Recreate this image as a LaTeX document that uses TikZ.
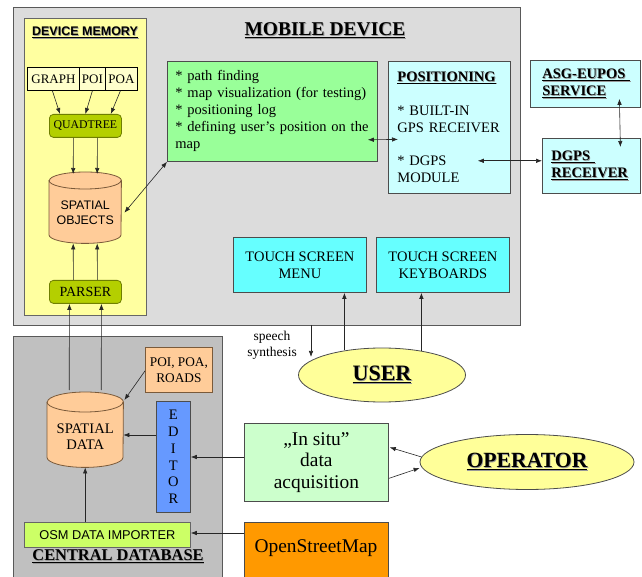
\documentclass[tikz,border=0pt]{standalone}
\usepackage{fontspec}
\setmainfont{Liberation Serif}
\setsansfont{Liberation Sans}
\usetikzlibrary{arrows.meta,calc,shapes.geometric}

\definecolor{devgray}{HTML}{DCDCDC}
\definecolor{dbgray}{HTML}{C0C0C0}
\definecolor{memyellow}{HTML}{FFFFA0}
\definecolor{paleyellow}{HTML}{FFFFCC}
\definecolor{olive}{HTML}{B4CF00}
\definecolor{oliveedge}{HTML}{6F7F00}
\definecolor{peach}{HTML}{FFCC99}
\definecolor{peachedge}{HTML}{7A5A3A}
\definecolor{taskgreen}{HTML}{99FF99}
\definecolor{palecyan}{HTML}{CCFFFF}
\definecolor{touchcyan}{HTML}{66FFFF}
\definecolor{useryellow}{HTML}{FFFF99}
\definecolor{editorblue}{HTML}{6699FF}
\definecolor{importgreen}{HTML}{CCFF66}
\definecolor{insitugreen}{HTML}{CCFFCC}
\definecolor{osmorange}{HTML}{FF9900}

\newcommand\fsz[2]{\fontsize{#1}{#2}\selectfont}
% underlined title with a soft grey drop shadow
\newcommand\shd[1]{\rlap{\kern0.8pt\raisebox{-0.8pt}{\textcolor{black!40}{\underline{#1}}}}\underline{#1}}

\tikzset{
  box/.style={draw=black!70, line width=0.8pt, inner sep=0pt, align=center,
              font=\fsz{14.5}{17}},
  region/.style={draw=black!65, line width=1pt, inner sep=0pt},
  cylbox/.style={draw=none, inner sep=0pt},
  cylpath/.style={draw=peachedge, line width=0.8pt, fill=peach},
  oval/.style={draw=black!70, line width=0.8pt, fill=useryellow, ellipse, inner sep=0pt},
  arr/.style={-{Latex[length=6pt,width=4.5pt]}, line width=0.6pt, black!85},
  darr/.style={{Latex[length=6pt,width=4.5pt]}-{Latex[length=6pt,width=4.5pt]}, line width=0.6pt, black!85},
}

% cylinder drawn over a named rectangle node: #1 node, #2 half width, #3 cap radius
\newcommand\drawcyl[3]{%
  \draw[cylpath] ($(#1.north west)+(0,-#3)$) -- ($(#1.south west)+(0,#3)$)
     arc[start angle=180, end angle=360, x radius=#2, y radius=#3]
     -- ($(#1.north east)+(0,-#3)$)
     arc[start angle=0, end angle=180, x radius=#2, y radius=#3] -- cycle;
  \draw[draw=peachedge, line width=0.8pt] ($(#1.north west)+(0,-#3)$)
     arc[start angle=180, end angle=360, x radius=#2, y radius=#3];
}

\begin{document}
\begin{tikzpicture}[x=1pt,y=1pt]
\useasboundingbox (0,0) rectangle (642,576);
\fill[white] (0,0) rectangle (642,576);

% ---------------- mobile device ----------------
\node[region, fill=devgray, minimum width=507, minimum height=318, anchor=north west] (mobile) at (13,569) {};
\node[font=\fsz{19.5}{22}\bfseries] (mobiletitle) at (325,545) {\shd{MOBILE DEVICE}};

\node[region, draw=black!60, line width=0.8pt, fill=memyellow, minimum width=122, minimum height=297, anchor=north west] (mem) at (24,558) {};
\node[font=\sffamily\bfseries\fsz{12.5}{14}] (memtitle) at (85,543) {\shd{DEVICE MEMORY}};

\node[box, draw=black, fill=paleyellow, font=\fsz{13}{15}, minimum width=52, minimum height=23, anchor=north west] (graph) at (27,509) {GRAPH};
\node[box, draw=black, fill=paleyellow, font=\fsz{13}{15}, minimum width=26, minimum height=23, anchor=north west] (poi) at (79,509) {POI};
\node[box, draw=black, fill=paleyellow, font=\fsz{13}{15}, minimum width=32, minimum height=23, anchor=north west] (poa) at (105,509) {POA};

\node[box, draw=oliveedge, fill=olive, rounded corners=4pt, font=\fsz{11.8}{14}, minimum width=72, minimum height=23, anchor=north west] (quad) at (49,462) {QUADTREE};

\node[cylbox, minimum width=72, minimum height=71, anchor=north west] (sobj) at (49,404) {};
\drawcyl{sobj}{36}{8.5}
\node[font=\sffamily\fsz{12.4}{15.5}, align=center] (sobjtext) at ($(sobj.center)+(0,-5)$) {SPATIAL\\OBJECTS};

\node[box, draw=oliveedge, fill=olive, rounded corners=4pt, font=\fsz{14}{16}, minimum width=72, minimum height=23, anchor=north west] (parser) at (49,296) {PARSER};

\node[box, fill=taskgreen, minimum width=210, minimum height=100, anchor=north west, text width=194, align=left] (tasks) at (167,515)
  {* path finding\\{}* map visualization (for testing)\\{}* positioning log\\{}* defining user’s position on the\\map};

\node[box, fill=palecyan, minimum width=122, minimum height=132, anchor=north west, text width=104, align=left] (pos) at (388,515)
  {\textbf{\shd{POSITIONING}}\\[16.8pt]* BUILT-IN\\GPS RECEIVER\\[16.8pt]* DGPS\\MODULE};

\node[box, fill=touchcyan, minimum width=133, minimum height=55, anchor=north west] (menu) at (233,339) {TOUCH SCREEN\\MENU};
\node[box, fill=touchcyan, minimum width=133, minimum height=55, anchor=north west] (keyb) at (376,339) {TOUCH SCREEN\\KEYBOARDS};

% ---------------- external positioning ----------------
\node[box, fill=palecyan, minimum width=110, minimum height=47, anchor=north west, text width=86, align=left] (asg) at (530,516)
  {\textbf{\shd{ASG-EUPOS\ }}\\\textbf{\shd{SERVICE}}};
\node[box, fill=palecyan, minimum width=98, minimum height=55, anchor=north west, text width=80, align=left] (dgps) at (542,438)
  {\textbf{\shd{DGPS\ }}\\\textbf{\shd{RECEIVER}}};

% ---------------- user ----------------
\node[oval, minimum width=167, minimum height=54, font=\fsz{22}{24}\bfseries] (user) at (382,201) {\shd{USER}};
\node[font=\fsz{13.5}{16}, align=center] (speech) at (272,231) {speech\\synthesis};

% ---------------- central database ----------------
\node[region, fill=dbgray, minimum width=209, minimum height=250, anchor=north west] (cdb) at (13,240) {};
\node[box, fill=peach, draw=peachedge, font=\fsz{13.3}{16}, minimum width=67, minimum height=45, anchor=north west] (poiroads) at (145,229) {POI, POA,\\ROADS};

\node[cylbox, minimum width=76, minimum height=75, anchor=north west] (sdata) at (47,184) {};
\drawcyl{sdata}{38}{10}
\node[font=\fsz{14.6}{16.5}, align=center] (sdatatext) at ($(sdata.center)+(0,-7)$) {SPATIAL\\DATA};

\node[box, draw=black!70, fill=editorblue, minimum width=34, minimum height=111, anchor=north west, font=\fsz{14.5}{16.7}] (editor) at (156,175) {E\\D\\I\\T\\O\\R};

\node[box, draw=black!60, fill=importgreen, minimum width=166, minimum height=25, anchor=north west, font=\sffamily\fsz{12.8}{15}] (importer) at (24,54) {OSM DATA IMPORTER};
\node[font=\fsz{16.4}{18}\bfseries] (cdbtitle) at (118,19) {\shd{CENTRAL DATABASE}};

% ---------------- operator side ----------------
\node[box, fill=insitugreen, minimum width=144, minimum height=78, anchor=north west, font=\fsz{19.4}{21.5}] (insitu) at (244,153) {„In situ”\\data\\acquisition};
\node[oval, minimum width=214, minimum height=55, font=\fsz{21.7}{24}\bfseries] (operator) at (527,114) {\shd{OPERATOR}};
\node[box, fill=osmorange, minimum width=144, minimum height=62, anchor=north west] (osm) at (244,54) {};
\node[font=\fsz{19.4}{22}] (osmtext) at (316,28) {OpenStreetMap};

% ---------------- connectors ----------------
\draw[arr] ($(graph.south)+(-1,0)$) -- ($(quad.north west)+(11,0)$);
\draw[arr] (poi.south) -- (quad.north);
\draw[arr] ($(poa.south)+(-1,0)$) -- ($(quad.north east)+(-11,0)$);

\draw[arr] ($(quad.south)+(-12,0)$) -- ($(sobj.north)+(-12,-2)$);
\draw[arr] ($(quad.south)+(12,0)$) -- ($(sobj.north)+(12,-2)$);

\draw[arr] ($(parser.north)+(-12,0)$) -- ($(sobj.south)+(-12,0)$);
\draw[arr] ($(parser.north)+(12,0)$) -- ($(sobj.south)+(12,0)$);

\draw[arr] ($(sdata.north)+(-16,2)$) -- ($(parser.south)+(-16,0)$);
\draw[arr] ($(sdata.north)+(16,2)$) -- ($(parser.south)+(16,0)$);

\draw[darr] (tasks.south west) -- ($(sobj.east)+(3,-5)$);
\draw[darr] ($(tasks.south east)+(-10,22)$) -- ($(pos.west)+(10,-12)$);
\coordinate (dgpsmod) at ($(pos.south east)+(-33,33)$);
\draw[darr] (dgpsmod) -- (dgps.west |- dgpsmod);
\draw[darr] ($(asg.south)+(34,9)$) -- ($(dgps.north)+(29,-9)$);

\coordinate (menuin) at ($(menu.south)+(44.5,0)$);
\coordinate (keybin) at ($(keyb.south)+(-21.5,0)$);
\draw[arr] (menuin |- 0,226) -- (menuin);
\draw[arr] (keybin |- 0,225) -- (keybin);
\coordinate (speechtop) at (311,251);
\draw[arr] (speechtop) -- (311,219);

\draw[arr] ($(poiroads.west)+(0,-1)$) -- ($(sdata.north east)+(1,-8)$);
\draw[arr] (editor.west |- 0,141) -- (sdata.east |- 0,141);
\draw[arr] (importer.north -| sdata.south) -- (sdata.south);
\draw[arr] (insitu.west |- 0,119) -- (editor.east |- 0,119);
\draw[arr] (osm.west |- 0,43) -- (importer.east |- 0,43);

\draw[arr] ($(operator.west)+(2,5)$) -- ($(insitu.east)+(1,15)$);
\draw[arr] ($(insitu.east)+(0,-16)$) -- ($(operator.west)+(0,-6)$);
\end{tikzpicture}
\end{document}
